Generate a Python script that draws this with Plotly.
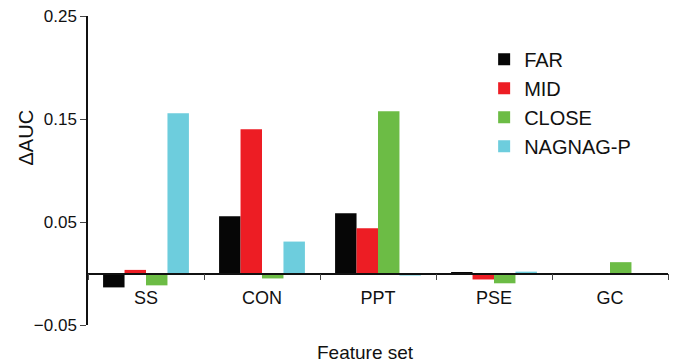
import plotly.graph_objects as go

categories = ["SS", "CON", "PPT", "PSE", "GC"]
series_names = ["FAR", "MID", "CLOSE", "NAGNAG-P"]
far = [-0.0135, 0.0555, 0.0585, 0.0012, -0.0012]
mid = [0.0035, 0.1400, 0.0440, -0.0058, -0.0012]
close = [-0.0115, -0.0048, 0.1575, -0.0095, 0.0110]
nagnag = [0.1555, 0.0310, -0.0020, 0.0018, -0.0015]
colors = ["#060606", "#ED1D24", "#6CBC45", "#6DCDDD"]
y_ticks = [-0.05, 0.05, 0.15, 0.25]

FONT = "Liberation Sans, Arial, sans-serif"

fig = go.Figure()
for name, vals, col in zip(series_names, [far, mid, close, nagnag], colors):
    fig.add_trace(go.Bar(x=categories, y=vals, name=name, marker_color=col,
                         marker_line_width=0))

fig.update_layout(
    width=676, height=364,
    margin=dict(l=88, r=8, t=16, b=39, autoexpand=False),
    paper_bgcolor="white", plot_bgcolor="white",
    barmode="group", bargap=0.26, bargroupgap=0,
    font=dict(family=FONT, color="#111"),
    showlegend=True,
    legend=dict(x=0.683, y=0.923, xanchor="left", yanchor="top",
                font=dict(size=20, family=FONT, color="#111"),
                bgcolor="rgba(0,0,0,0)", tracegroupgap=0, itemwidth=30),
    xaxis=dict(type="category", anchor="free", position=0.05 / 0.30,
               showline=True, linecolor="#111", linewidth=1.5,
               ticks="outside", tickson="boundaries", ticklen=6, tickwidth=1,
               tickcolor="#444", showgrid=False, automargin=False,
               ticklabelstandoff=8,
               tickfont=dict(size=18, family=FONT, color="#111")),
    yaxis=dict(range=[-0.05, 0.25], tickvals=y_ticks,
               ticktext=[("−0.05" if v < 0 else f"{v:.2f}") for v in y_ticks],
               showline=True, linecolor="#111", linewidth=1.5,
               ticks="outside", ticklen=6, tickwidth=1, tickcolor="#444",
               showgrid=False, zeroline=False, automargin=False,
               tickfont=dict(size=17, family=FONT, color="#111")),
)

fig.add_annotation(text="Feature set", xref="paper", yref="paper",
                   x=(365 - 88) / 580, y=-27 / 309, xanchor="center", yanchor="middle",
                   showarrow=False, font=dict(size=19, family=FONT, color="#111"))
fig.add_annotation(text="ΔAUC", xref="paper", yref="paper", textangle=-90,
                   x=(25 - 88) / 580, y=(325 - 137.5) / 309,
                   xanchor="center", yanchor="middle",
                   showarrow=False, font=dict(size=20, family=FONT, color="#111"))

fig.write_html("out.html", config={"displayModeBar": False},
               post_script="document.body.style.margin='0';document.body.style.overflow='hidden';")
